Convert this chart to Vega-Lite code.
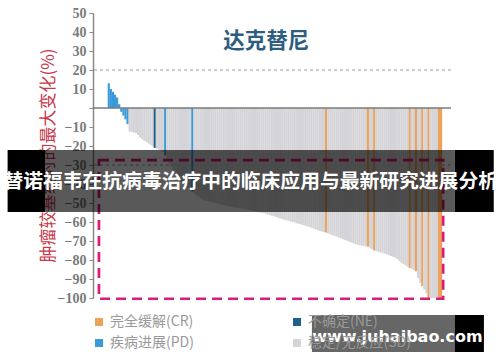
{
  "$schema": "https://vega.github.io/schema/vega-lite/v6.json",
  "autosize": {"type": "none"},
  "padding": {"left": 93, "top": 13, "right": 49, "bottom": 64},
  "width": 358,
  "height": 285,
  "background": "white",
  "config": {
    "view": {"stroke": null},
    "axis": {"labelOverlap": false},
    "axisY": {"labelOverlap": false}
  },
  "encoding": {
    "y": {"type": "quantitative", "scale": {"domain": [-100, 50], "nice": false, "zero": false},
      "axis": {"tickCount": 15, "labelExpr": "datum.value == 0 ? '' : datum.label", "title": "肿瘤较基线时的最大变化(%)",
        "labelOverlap": false,
        "titleColor": "#c8374a", "titleFont": "Noto Sans CJK SC", "titleFontSize": 17, "titleFontWeight": "normal", "titleAngle": -90, "titleX": -45, "titleY": 142, "titleAlign": "center", "titleBaseline": "middle",
        "labelFont": "Liberation Sans Narrow", "labelFontWeight": "bold", "labelFontSize": 14, "labelColor": "#7a7a7a", "labelPadding": 3, "tickColor": "#888888", "tickSize": 4, "domainColor": "#888888", "domainWidth": 1.5, "grid": false}}
  },
  "layer": [
    {
      "data": {"values": [{"v": 20}, {"v": -30}]},
      "mark": {"type": "rule", "color": "#9a9a9a", "strokeDash": [3, 3], "strokeWidth": 1},
      "encoding": {"y": {"field": "v"}}
    },
    {
      "data": {"values": [
        {"i":1,"v":13,"r":"PD"},{"i":2,"v":10,"r":"PD"},{"i":3,"v":8.5,"r":"PD"},{"i":4,"v":7,"r":"PD"},{"i":5,"v":5.5,"r":"PD"},
        {"i":6,"v":2,"r":"PD"},{"i":7,"v":-2,"r":"PD"},{"i":8,"v":-4,"r":"PD"},{"i":9,"v":-6,"r":"PD"},{"i":10,"v":-8.5,"r":"PD"},
        {"i":11,"v":-12.5,"r":"SD"},{"i":12,"v":-12.7,"r":"SD"},{"i":13,"v":-12.9,"r":"SD"},{"i":14,"v":-13.2,"r":"SD"},{"i":15,"v":-14.2,"r":"SD"},
        {"i":16,"v":-15.5,"r":"SD"},{"i":17,"v":-16.5,"r":"SD"},{"i":18,"v":-17.2,"r":"SD"},{"i":19,"v":-17.9,"r":"SD"},{"i":20,"v":-18.7,"r":"SD"},
        {"i":21,"v":-19.4,"r":"SD"},{"i":22,"v":-20.2,"r":"SD"},{"i":23,"v":-21,"r":"NE"},{"i":24,"v":-21.4,"r":"SD"},{"i":25,"v":-22,"r":"SD"},
        {"i":26,"v":-22.5,"r":"SD"},{"i":27,"v":-23,"r":"SD"},{"i":28,"v":-25,"r":"PD"},{"i":29,"v":-27,"r":"SD"},{"i":30,"v":-29,"r":"SD"},
        {"i":31,"v":-31,"r":"SD"},{"i":32,"v":-32.5,"r":"SD"},{"i":33,"v":-34,"r":"SD"},{"i":34,"v":-35.8,"r":"SD"},{"i":35,"v":-37.5,"r":"SD"},
        {"i":36,"v":-38.8,"r":"SD"},{"i":37,"v":-40,"r":"SD"},{"i":38,"v":-41.3,"r":"SD"},{"i":39,"v":-42.3,"r":"SD"},{"i":40,"v":-43.2,"r":"SD"},
        {"i":41,"v":-44,"r":"PD"},{"i":42,"v":-45,"r":"SD"},{"i":43,"v":-46,"r":"SD"},{"i":44,"v":-46.7,"r":"SD"},{"i":45,"v":-47.5,"r":"SD"},
        {"i":46,"v":-48.2,"r":"SD"},{"i":47,"v":-48.6,"r":"SD"},{"i":48,"v":-48.9,"r":"SD"},{"i":49,"v":-49.2,"r":"SD"},{"i":50,"v":-49.5,"r":"SD"},
        {"i":51,"v":-49.8,"r":"SD"},{"i":52,"v":-50,"r":"SD"},{"i":53,"v":-50.3,"r":"SD"},{"i":54,"v":-50.6,"r":"SD"},{"i":55,"v":-50.9,"r":"SD"},
        {"i":56,"v":-51.1,"r":"SD"},{"i":57,"v":-51.4,"r":"SD"},{"i":58,"v":-51.6,"r":"SD"},{"i":59,"v":-51.9,"r":"SD"},{"i":60,"v":-52.1,"r":"SD"},
        {"i":61,"v":-52.3,"r":"SD"},{"i":62,"v":-52.5,"r":"SD"},{"i":63,"v":-52.7,"r":"SD"},{"i":64,"v":-52.9,"r":"SD"},{"i":65,"v":-53,"r":"SD"},
        {"i":66,"v":-53.2,"r":"SD"},{"i":67,"v":-53.4,"r":"SD"},{"i":68,"v":-53.6,"r":"SD"},{"i":69,"v":-53.8,"r":"SD"},{"i":70,"v":-54.1,"r":"SD"},
        {"i":71,"v":-54.4,"r":"SD"},{"i":72,"v":-54.6,"r":"SD"},{"i":73,"v":-54.9,"r":"SD"},{"i":74,"v":-55.1,"r":"SD"},{"i":75,"v":-55.3,"r":"SD"},
        {"i":76,"v":-55.6,"r":"SD"},{"i":77,"v":-56,"r":"SD"},{"i":78,"v":-56.3,"r":"SD"},{"i":79,"v":-56.7,"r":"SD"},{"i":80,"v":-57,"r":"SD"},
        {"i":81,"v":-57.3,"r":"SD"},{"i":82,"v":-57.8,"r":"SD"},{"i":83,"v":-58.1,"r":"SD"},{"i":84,"v":-58.4,"r":"SD"},{"i":85,"v":-58.8,"r":"SD"},
        {"i":86,"v":-59.1,"r":"SD"},{"i":87,"v":-59.4,"r":"SD"},{"i":88,"v":-59.7,"r":"SD"},{"i":89,"v":-60,"r":"SD"},{"i":90,"v":-60.3,"r":"SD"},
        {"i":91,"v":-60.7,"r":"SD"},{"i":92,"v":-61,"r":"SD"},{"i":93,"v":-61.3,"r":"SD"},{"i":94,"v":-61.6,"r":"SD"},{"i":95,"v":-62,"r":"SD"},
        {"i":96,"v":-62.3,"r":"SD"},{"i":97,"v":-62.6,"r":"SD"},{"i":98,"v":-63.1,"r":"SD"},{"i":99,"v":-63.5,"r":"SD"},{"i":100,"v":-63.9,"r":"SD"},
        {"i":101,"v":-64.3,"r":"SD"},{"i":102,"v":-64.7,"r":"SD"},{"i":103,"v":-65,"r":"SD"},{"i":104,"v":-65.3,"r":"SD"},{"i":105,"v":-65.6,"r":"CR"},
        {"i":106,"v":-66,"r":"SD"},{"i":107,"v":-66.5,"r":"SD"},{"i":108,"v":-66.9,"r":"SD"},{"i":109,"v":-67.3,"r":"SD"},{"i":110,"v":-67.7,"r":"SD"},
        {"i":111,"v":-68.1,"r":"SD"},{"i":112,"v":-68.5,"r":"SD"},{"i":113,"v":-69,"r":"SD"},{"i":114,"v":-69.4,"r":"SD"},{"i":115,"v":-69.8,"r":"SD"},
        {"i":116,"v":-70.3,"r":"SD"},{"i":117,"v":-70.7,"r":"SD"},{"i":118,"v":-71.1,"r":"SD"},{"i":119,"v":-71.6,"r":"SD"},{"i":120,"v":-72,"r":"SD"},
        {"i":121,"v":-72.2,"r":"SD"},{"i":122,"v":-72.4,"r":"SD"},{"i":123,"v":-72.6,"r":"SD"},{"i":124,"v":-72.8,"r":"SD"},{"i":125,"v":-73,"r":"CR"},
        {"i":126,"v":-73.6,"r":"SD"},{"i":127,"v":-74.3,"r":"SD"},{"i":128,"v":-75,"r":"CR"},{"i":129,"v":-75.3,"r":"SD"},{"i":130,"v":-75.7,"r":"SD"},
        {"i":131,"v":-76,"r":"SD"},{"i":132,"v":-76.3,"r":"SD"},{"i":133,"v":-76.6,"r":"SD"},{"i":134,"v":-77,"r":"SD"},{"i":135,"v":-77.4,"r":"SD"},
        {"i":136,"v":-77.9,"r":"SD"},{"i":137,"v":-78.3,"r":"SD"},{"i":138,"v":-78.7,"r":"SD"},{"i":139,"v":-79.5,"r":"SD"},{"i":140,"v":-80.4,"r":"SD"},
        {"i":141,"v":-81.3,"r":"SD"},{"i":142,"v":-82.1,"r":"SD"},{"i":143,"v":-82.8,"r":"SD"},{"i":144,"v":-83.5,"r":"SD"},{"i":145,"v":-84.2,"r":"CR"},
        {"i":146,"v":-84.7,"r":"SD"},{"i":147,"v":-85.3,"r":"SD"},{"i":148,"v":-86,"r":"CR"},{"i":149,"v":-89.5,"r":"SD"},{"i":150,"v":-92,"r":"SD"},
        {"i":151,"v":-93.8,"r":"CR"},{"i":152,"v":-95.5,"r":"SD"},{"i":153,"v":-97.5,"r":"SD"},{"i":154,"v":-100,"r":"CR"},{"i":155,"v":-100,"r":"SD"},
        {"i":156,"v":-100,"r":"SD"},{"i":157,"v":-100,"r":"SD"},{"i":158,"v":-100,"r":"SD"},{"i":159,"v":-100,"r":"CR"},{"i":160,"v":-100,"r":"CR"}
      ]},
      "mark": {"type": "bar", "orient": "vertical", "width": 2.15},
      "encoding": {
        "x": {"field": "i", "type": "quantitative", "scale": {"domain": [-4.15, 162.36], "nice": false, "zero": false}, "axis": null},
        "y": {"field": "v"},
        "y2": {"datum": 0},
        "color": {"field": "r", "type": "nominal",
          "scale": {"domain": ["CR", "PD", "NE", "SD"], "range": ["#eda25a", "#3a9ad9", "#1f5f8a", "#d4d4d8"]},
          "legend": {"orient": "none", "legendX": -1, "legendY": 302, "columns": 2, "title": null, "padding": 0,
            "symbolType": "square", "symbolSize": 64, "symbolStrokeWidth": 0, "symbolOpacity": 1,
            "labelFont": "Noto Sans CJK SC", "labelFontSize": 14, "labelColor": "#999999", "labelOffset": 4,
            "rowPadding": 7, "columnPadding": 96,
            "labelExpr": "datum.label == 'CR' ? '完全缓解(CR)' : datum.label == 'NE' ? '不确定(NE)' : datum.label == 'PD' ? '疾病进展(PD)' : '稳定/无反应(SD)'"}}
      }
    },
    {
      "data": {"values": [{"v": 0}]},
      "mark": {"type": "rule", "color": "#7a7a7a", "strokeWidth": 1.5},
      "encoding": {"y": {"field": "v"}}
    },
    {
      "data": {"values": [{}]},
      "mark": {"type": "rect", "fill": null, "fillOpacity": 0, "stroke": "#d81b7c", "strokeWidth": 2.7, "strokeDash": [10, 6]},
      "encoding": {"x": {"datum": -3.7}, "x2": {"datum": 161}, "y": {"datum": -27.4}, "y2": {"datum": -100.4}}
    },
    {
      "data": {"values": [{}]},
      "mark": {"type": "text", "text": "达克替尼", "font": "Noto Sans CJK SC", "fontWeight": "bold", "fontSize": 21.5, "color": "#2d5d80", "align": "center", "baseline": "middle"},
      "encoding": {"x": {"datum": 76.3}, "y": {"datum": 34.7}}
    },
    {
      "data": {"values": [{}]},
      "mark": {"type": "rect", "color": "#000000", "opacity": 0.65},
      "encoding": {"x": {"datum": -29.3}, "x2": {"datum": 166.5}, "y": {"datum": -22.1}, "y2": {"datum": -54.7}}
    },
    {
      "data": {"values": [{}]},
      "mark": {"type": "rect", "color": "#000000", "opacity": 1},
      "encoding": {"x": {"datum": -47.4}, "x2": {"datum": -29.3}, "y": {"datum": -22.1}, "y2": {"datum": -54.7}}
    },
    {
      "data": {"values": [{}]},
      "mark": {"type": "rect", "color": "#000000", "opacity": 1},
      "encoding": {"x": {"datum": 166.5}, "x2": {"datum": 185.2}, "y": {"datum": -22.1}, "y2": {"datum": -54.7}}
    },
    {
      "data": {"values": [{}]},
      "mark": {"type": "text", "text": "替诺福韦在抗病毒治疗中的临床应用与最新研究进展分析", "font": "Noto Sans CJK SC", "fontWeight": "bold", "fontSize": 19.8, "color": "#ffffff", "align": "center", "baseline": "middle"},
      "encoding": {"x": {"datum": 68.9}, "y": {"datum": -38.9}}
    },
    {
      "data": {"values": [{}]},
      "mark": {"type": "rect", "color": "#000000", "opacity": 0.6},
      "encoding": {"x": {"datum": 98.2}, "x2": {"datum": 166.5}, "y": {"datum": -108.9}, "y2": {"datum": -128.4}}
    },
    {
      "data": {"values": [{}]},
      "mark": {"type": "rect", "color": "#000000", "opacity": 1},
      "encoding": {"x": {"datum": 166.5}, "x2": {"datum": 180.5}, "y": {"datum": -108.9}, "y2": {"datum": -128.4}}
    },
    {
      "data": {"values": [{}]},
      "mark": {"type": "text", "text": "www.juhaibao.com", "font": "DejaVu Sans", "fontWeight": "bold", "fontSize": 16, "color": "#ffffff", "align": "center", "baseline": "middle"},
      "encoding": {"x": {"datum": 139.1}, "y": {"datum": -120.5}}
    }
  ]
}
